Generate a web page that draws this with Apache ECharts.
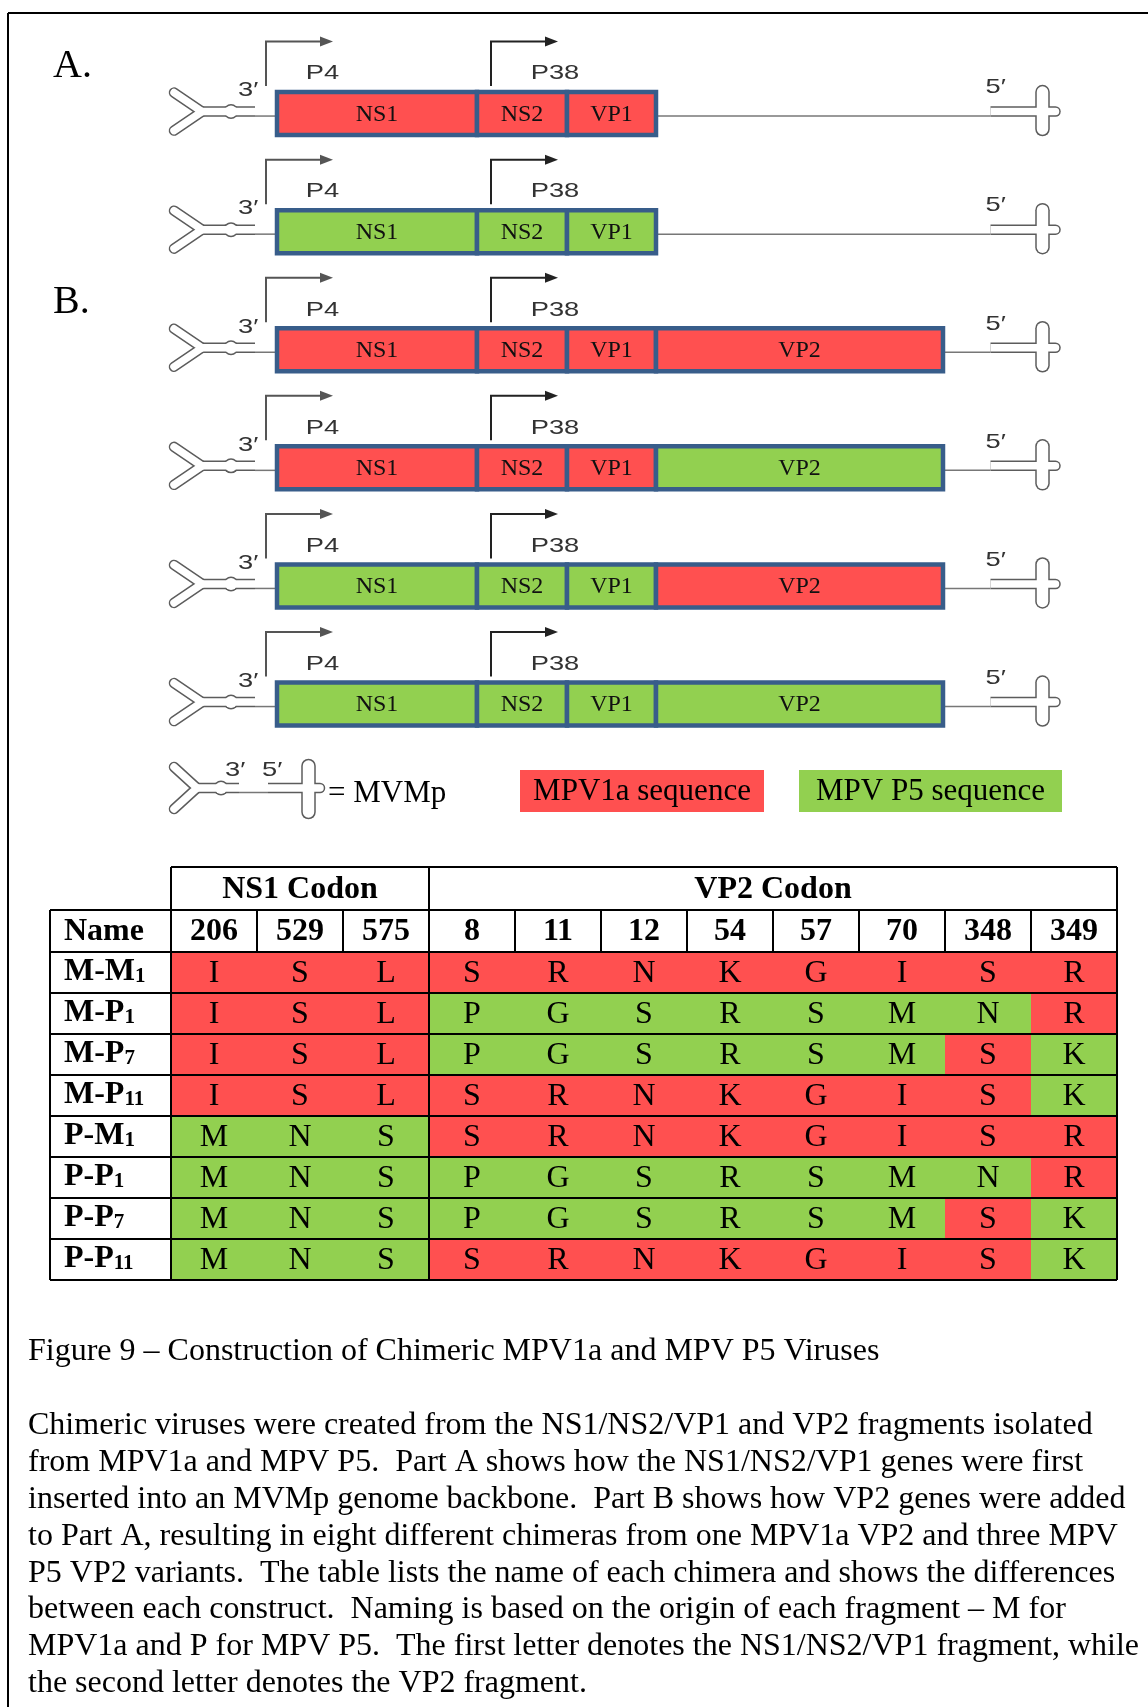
<!DOCTYPE html>
<html>
<head>
<meta charset="utf-8">
<title>Figure 9</title>
<script src="https://cdn.jsdelivr.net/npm/echarts@6.0.0/dist/echarts.min.js"></script>
<style>
  html, body { margin: 0; padding: 0; background: #fff; }
  #chart { width: 1148px; height: 1707px; }
</style>
</head>
<body>
<div id="chart"></div>
<script>
  // genome map: segment boundaries in map units
  const segmentNames = ['NS1', 'NS2', 'VP1', 'VP2']
  const segmentStart = [0, 200, 290, 379]
  const segmentEnd = [200, 290, 379, 666]

  // origin of every segment in each construct (M = MPV1a, P = MPV P5)
  const constructs = ['A-M', 'A-P', 'B-MM', 'B-MP', 'B-PM', 'B-PP']
  const constructOrigin = [
    ['M', 'M', 'M'],
    ['P', 'P', 'P'],
    ['M', 'M', 'M', 'M'],
    ['M', 'M', 'M', 'P'],
    ['P', 'P', 'P', 'M'],
    ['P', 'P', 'P', 'P']
  ]

  // codon table
  const chimeras = ['M-M1', 'M-P1', 'M-P7', 'M-P11', 'P-M1', 'P-P1', 'P-P7', 'P-P11']
  const codons = ['206', '529', '575', '8', '11', '12', '54', '57', '70', '348', '349']
  const codonGroups = ['NS1 Codon', 'VP2 Codon']
  const codonGroupSize = [3, 8]
  const residues = [
    ['I', 'S', 'L', 'S', 'R', 'N', 'K', 'G', 'I', 'S', 'R'],
    ['I', 'S', 'L', 'P', 'G', 'S', 'R', 'S', 'M', 'N', 'R'],
    ['I', 'S', 'L', 'P', 'G', 'S', 'R', 'S', 'M', 'S', 'K'],
    ['I', 'S', 'L', 'S', 'R', 'N', 'K', 'G', 'I', 'S', 'K'],
    ['M', 'N', 'S', 'S', 'R', 'N', 'K', 'G', 'I', 'S', 'R'],
    ['M', 'N', 'S', 'P', 'G', 'S', 'R', 'S', 'M', 'N', 'R'],
    ['M', 'N', 'S', 'P', 'G', 'S', 'R', 'S', 'M', 'S', 'K'],
    ['M', 'N', 'S', 'S', 'R', 'N', 'K', 'G', 'I', 'S', 'K']
  ]
  const legendLabels = ['MPV1a sequence', 'MPV P5 sequence']

  const caption = 'Figure 9 \u2013 Construction of Chimeric MPV1a and MPV P5 Viruses'
  const bodyLines = [
    'Chimeric viruses were created from the NS1/NS2/VP1 and VP2 fragments isolated',
    'from MPV1a and MPV P5.  Part A shows how the NS1/NS2/VP1 genes were first',
    'inserted into an MVMp genome backbone.  Part B shows how VP2 genes were added',
    'to Part A, resulting in eight different chimeras from one MPV1a VP2 and three MPV',
    'P5 VP2 variants.  The table lists the name of each chimera and shows the differences',
    'between each construct.  Naming is based on the origin of each fragment \u2013 M for',
    'MPV1a and P for MPV P5.  The first letter denotes the NS1/NS2/VP1 fragment, while',
    'the second letter denotes the VP2 fragment.'
  ]

  const SERIF = '"Liberation Serif", "Times New Roman", serif'
  const SANS = '"Liberation Sans", Arial, sans-serif'
  const COLOR = { M: '#FF5050', P: '#92D050' }
  const OUTLINE = '#385D8A'
  const PIN = '#5c5c5c'
  const NAME_W = 121   // name column width
  const HEAD_H = 42    // codon number row
  const GROUP_H = 43   // NS1 / VP2 codon row
  const TFONT = 32     // table font size

  function txt(text, x, y, o) {
    o = o || {}
    return {
      type: 'text',
      z2: 20,
      x: x, y: y,
      scaleX: o.sx || 1,
      style: {
        text: text, x: 0, y: 0,
        align: o.align || 'center', textAlign: o.align || 'center',
        verticalAlign: 'middle', textVerticalAlign: 'middle',
        fontSize: o.size || 20, fontFamily: o.family || SERIF,
        fontWeight: o.weight || 'normal', fill: o.color || '#000'
      }
    }
  }
  // stretched sans labels of the genome map
  function sans(text, x, y, align) {
    return txt(text, x, y, { size: 21, family: SANS, color: '#333', align: align, sx: 1.3 })
  }
  function seg(pts, color, w) {
    return { type: 'polyline', z2: 10, shape: { points: pts }, style: { stroke: color || '#000', lineWidth: w || 2, fill: null } }
  }

  // outlined hairpin drawn as a dark thick stroke with a white core
  function outline(parts) {
    const dark = [], light = []
    parts.forEach(function (p) {
      p.strokes.forEach(function (s) {
        dark.push({ type: 'polyline', shape: { points: s.pts }, style: { stroke: PIN, lineWidth: s.w, lineCap: s.cap, lineJoin: 'round', fill: null } })
        light.push({ type: 'polyline', shape: { points: s.pts }, style: { stroke: '#fff', lineWidth: s.w - 3, lineCap: s.cap, lineJoin: 'round', fill: null } })
      })
      ;(p.dots || []).forEach(function (d) {
        dark.push({ type: 'circle', shape: { cx: d[0], cy: d[1], r: d[2] }, style: { fill: PIN } })
        light.push({ type: 'circle', shape: { cx: d[0], cy: d[1], r: d[2] - 1.5 }, style: { fill: '#fff' } })
      })
    })
    return dark.concat(light)
  }
  function leftPin(tipX, jx, sx, bulgeX, cys, spread) {
    return {
      strokes: [
        { pts: [[tipX, cys - spread], [jx, cys], [tipX, cys + spread]], w: 10.5, cap: 'round' },
        { pts: [[jx, cys], [sx, cys]], w: 10.5, cap: 'butt' }
      ],
      dots: [[bulgeX, cys, 7.5]]
    }
  }
  function rightPin(sx, hx, cys, barTop, barBottom, armX) {
    return {
      strokes: [
        { pts: [[sx, cys], [hx, cys]], w: 10.5, cap: 'butt' },
        { pts: [[hx, barTop], [hx, barBottom]], w: 14.5, cap: 'round' },
        { pts: [[hx, cys], [armX, cys]], w: 10.5, cap: 'round' }
      ]
    }
  }
  function promoter(x, cy, len, color) {
    return [
      { type: 'polyline', shape: { points: [[x, cy - 27.5], [x, cy - 72], [x + len, cy - 72]] }, style: { stroke: color, lineWidth: 2, fill: null } },
      { type: 'polygon', shape: { points: [[x + len - 1, cy - 77], [x + len + 12, cy - 72], [x + len - 1, cy - 67]] }, style: { fill: color } }
    ]
  }

  // series data
  const segData = [], segMeta = []
  constructOrigin.forEach(function (origins, row) {
    origins.forEach(function (o, k) {
      segData.push([segmentStart[k], segmentEnd[k], row])
      segMeta.push({ name: segmentNames[k], color: COLOR[o] })
    })
  })
  const cellData = [], cellMeta = []
  residues.forEach(function (list, row) {
    list.forEach(function (r, col) {
      cellData.push([col, row])
      cellMeta.push({ residue: r, color: r === residues[0][col] ? COLOR.M : COLOR.P })
    })
  })
  const groupStart = codonGroupSize.map(function (n, i) {
    return codonGroupSize.slice(0, i).reduce(function (a, b) { return a + b }, 0)
  })

  function renderSegment(params, api) {
    const m = segMeta[params.dataIndex]
    const row = api.value(2)
    const a = api.coord([api.value(0), row])
    const b = api.coord([api.value(1), row])
    const h = 43
    return {
      type: 'group',
      children: [
        { type: 'rect', shape: { x: a[0], y: a[1] - h / 2, width: b[0] - a[0], height: h }, style: { fill: m.color, stroke: OUTLINE, lineWidth: 4.5 } },
        txt(m.name, (a[0] + b[0]) / 2, a[1] + 1, { size: 24, color: '#111' })
      ]
    }
  }

  function renderDecor(params, api) {
    const row = params.dataIndex
    const n = constructOrigin[row].length
    const left = api.coord([segmentStart[0], row])
    const ns2 = api.coord([segmentStart[1], row])
    const end = api.coord([segmentEnd[n - 1], row])
    const term = api.coord([segmentEnd[segmentEnd.length - 1], row])
    const bx = left[0], cy = left[1], cys = cy - 2
    const hx = term[0] + 99.5
    let ch = [
      seg([[bx - 22, cys + 4.5], [bx, cys + 4.5]], '#777', 1.5),
      seg([[end[0], cys + 4.5], [hx - 52, cys + 4.5]], '#777', 1.5)
    ]
    ch = ch.concat(outline([
      leftPin(bx - 103, bx - 75, bx - 22, bx - 46, cys, 19),
      rightPin(hx - 52, hx, cys, cy - 21.5, cy + 15.5, hx + 13)
    ]))
    ch = ch.concat(promoter(bx - 11, cy, 55, '#555'), promoter(ns2[0] + 14, cy, 55, '#222'))
    ch.push(sans('3\u2032', bx - 39, cy - 23, 'left'))
    ch.push(sans('5\u2032', hx - 57, cy - 26, 'left'))
    ch.push(sans('P4', bx + 45.5, cy - 40))
    ch.push(sans('P38', ns2[0] + 78, cy - 40))
    return { type: 'group', children: ch }
  }

  function renderCell(params, api) {
    const m = cellMeta[params.dataIndex]
    const col = api.value(0), row = api.value(1)
    const p = api.coord([col, row])
    const s = api.size([1, 1])
    const x0 = p[0] - s[0] / 2, y0 = p[1] - s[1] / 2, x1 = x0 + s[0], y1 = y0 + s[1]
    const ch = [
      { type: 'rect', z2: 0, shape: { x: x0, y: y0, width: s[0], height: s[1] }, style: { fill: m.color } },
      txt(m.residue, p[0], p[1] + 1, { size: TFONT }),
      seg([[x0, y0], [x1, y0]])
    ]
    if (row === chimeras.length - 1) ch.push(seg([[x0, y1], [x1, y1]]))
    if (col === 0) {
      ch.push(seg([[x0, y0], [x0, y1]]))
      ch.push(seg([[x0 - NAME_W, y0], [x0 - NAME_W, y1]]))
      ch.push(seg([[x0 - NAME_W, y0], [x0, y0]]))
      if (row === chimeras.length - 1) ch.push(seg([[x0 - NAME_W, y1], [x0, y1]]))
    }
    if (col === codonGroupSize[0]) ch.push(seg([[x0, y0], [x0, y1]]))
    if (col === codons.length - 1) ch.push(seg([[x1, y0], [x1, y1]]))
    return { type: 'group', children: ch }
  }

  function renderGroup(params, api) {
    const i = params.dataIndex
    const first = groupStart[i], last = first + codonGroupSize[i] - 1
    const a = api.coord([first, 0]), b = api.coord([last, 0])
    const s = api.size([1, 1])
    const x0 = a[0] - s[0] / 2, x1 = b[0] + s[0] / 2, top = a[1] - s[1] / 2
    const rowTop = top - HEAD_H, groupTop = rowTop - GROUP_H
    const ch = [
      seg([[x0, groupTop], [x1, groupTop]]),
      seg([[x0, groupTop], [x0, rowTop]]),
      seg([[x1, groupTop], [x1, rowTop]]),
      seg([[x0, rowTop], [x1, rowTop]]),
      seg([[x0, rowTop], [x0, top]]),
      seg([[x1, rowTop], [x1, top]]),
      txt(codonGroups[i], (x0 + x1) / 2, groupTop + GROUP_H / 2 + 1, { size: TFONT, weight: 'bold' })
    ]
    if (i === 0) {
      ch.push(seg([[x0 - NAME_W, rowTop], [x0, rowTop]]))
      ch.push(seg([[x0 - NAME_W, rowTop], [x0 - NAME_W, top]]))
      ch.push(seg([[x0 - NAME_W, top], [x0, top]]))
      ch.push(txt('Name', x0 - NAME_W + 14, rowTop + HEAD_H / 2 + 1, { size: TFONT, weight: 'bold', align: 'left' }))
    }
    return { type: 'group', children: ch }
  }

  // MVMp legend glyph, colour keys, panel letters, frame and caption
  const legendGraphic = outline([
    leftPin(174, 197, 239, 221, 788, 21),
    rightPin(268, 308.5, 788, 766, 812, 320)
  ]).concat([
    seg([[239, 792.5], [268, 792.5]], '#777', 1.5),
    sans('3\u2032', 225, 770, 'left'),
    sans('5\u2032', 262, 770, 'left'),
    txt('= MVMp', 328, 794, { size: 31, align: 'left' }),
    { type: 'rect', shape: { x: 520, y: 770, width: 244, height: 42 }, style: { fill: COLOR.M } },
    txt(legendLabels[0], 642, 792, { size: 31 }),
    { type: 'rect', shape: { x: 799, y: 770, width: 263, height: 42 }, style: { fill: COLOR.P } },
    txt(legendLabels[1], 930.5, 792, { size: 31 }),
    txt('A.', 53, 66, { size: 40, align: 'left' }),
    txt('B.', 53, 302, { size: 40, align: 'left' }),
    seg([[8, 13], [1148, 13]], '#000', 2),
    seg([[8, 13], [8, 1707]], '#000', 2),
    txt(caption, 28, 1352, { size: 32, align: 'left' })
  ], bodyLines.map(function (line, i) {
    return txt(line, 28, 1426 + i * 36.8, { size: 32, align: 'left' })
  }))

  const chart = echarts.init(document.getElementById('chart'))
  chart.setOption({
    animation: false,
    backgroundColor: '#fff',
    grid: [
      { left: 277, top: 54.5, width: 666, height: 708.6, outerBoundsMode: 'none' },
      { left: 171, top: 952, width: 946, height: 328, outerBoundsMode: 'none' }
    ],
    xAxis: [
      { gridIndex: 0, type: 'value', min: 0, max: 666, show: false },
      {
        gridIndex: 1, type: 'category', data: codons, position: 'top',
        axisLine: { lineStyle: { color: '#000', width: 2 } },
        axisTick: { show: true, length: HEAD_H, interval: 0, lineStyle: { color: '#000', width: 2 } },
        axisLabel: { interval: 0, margin: HEAD_H / 2 - 1, verticalAlign: 'middle', fontFamily: SERIF, fontWeight: 'bold', fontSize: TFONT, color: '#000' },
        splitLine: { show: false }
      }
    ],
    yAxis: [
      { gridIndex: 0, type: 'category', data: constructs, inverse: true, show: false },
      {
        gridIndex: 1, type: 'category', data: chimeras, inverse: true,
        axisLine: { show: false },
        axisTick: { show: false },
        splitLine: { show: false },
        axisLabel: {
          interval: 0, margin: NAME_W - 14, align: 'left',
          formatter: function (v) {
            const m = v.match(/^(.*?)(\d+)$/)
            return '{b|' + m[1] + '}{s|' + m[2] + '}'
          },
          rich: {
            b: { fontFamily: SERIF, fontWeight: 'bold', fontSize: TFONT, color: '#000', lineHeight: 30, verticalAlign: 'bottom' },
            s: { fontFamily: SERIF, fontWeight: 'bold', fontSize: 21, color: '#000', lineHeight: 30, verticalAlign: 'bottom', padding: [14, 0, 0, 0] }
          }
        }
      }
    ],
    series: [
      { type: 'custom', name: 'decor', xAxisIndex: 0, yAxisIndex: 0, data: constructs.map(function (c, i) { return [0, i] }), encode: { x: 0, y: 1 }, renderItem: renderDecor, z: 1 },
      { type: 'custom', name: 'segments', xAxisIndex: 0, yAxisIndex: 0, data: segData, encode: { x: [0, 1], y: 2 }, renderItem: renderSegment, z: 2 },
      { type: 'custom', name: 'cells', xAxisIndex: 1, yAxisIndex: 1, data: cellData, encode: { x: 0, y: 1 }, renderItem: renderCell, z: 2 },
      { type: 'custom', name: 'groups', xAxisIndex: 1, yAxisIndex: 1, data: codonGroups.map(function (g, i) { return [groupStart[i], 0] }), encode: { x: 0, y: 1 }, renderItem: renderGroup, z: 3 }
    ],
    graphic: [{ type: 'group', silent: true, children: legendGraphic }]
  })
</script>
</body>
</html>
